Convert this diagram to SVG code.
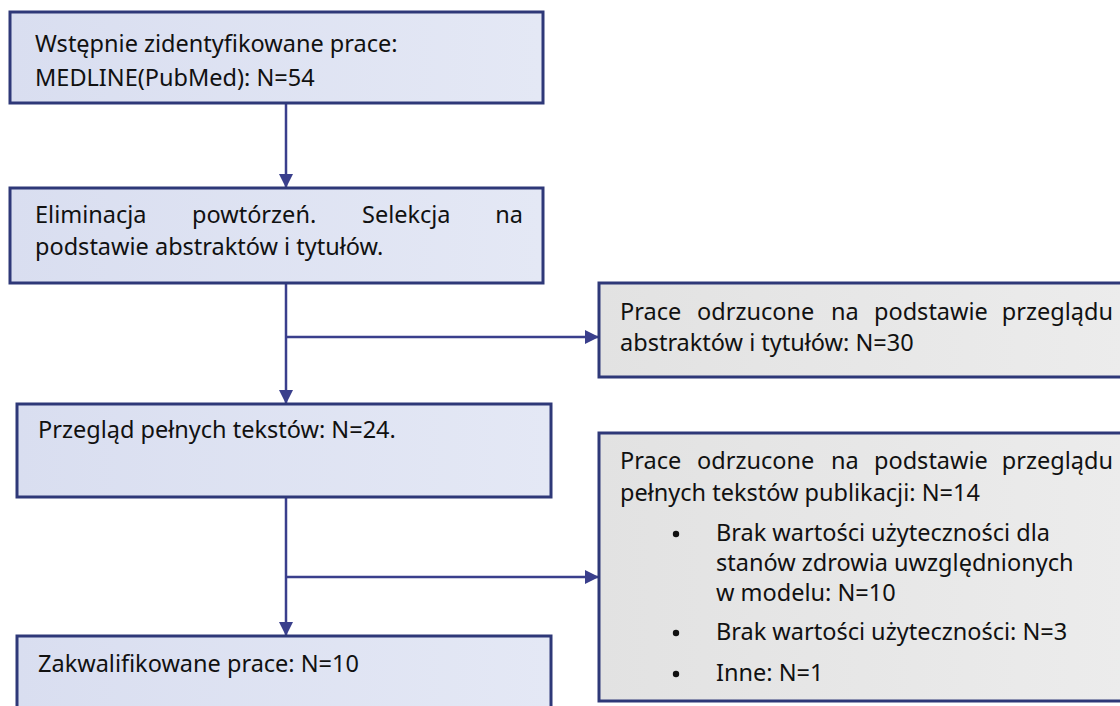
<svg xmlns="http://www.w3.org/2000/svg" width="1120" height="706" viewBox="0 0 1120 706">
<defs>
<linearGradient id="gb" x1="0" y1="0" x2="1" y2="0">
<stop offset="0" stop-color="#d9def0"/><stop offset="1" stop-color="#e4e8f5"/>
</linearGradient>
<linearGradient id="gg" x1="0" y1="0" x2="1" y2="0">
<stop offset="0" stop-color="#e2e2e2"/><stop offset="1" stop-color="#ececec"/>
</linearGradient>
<marker id="ah" viewBox="0 0 14 14" refX="13" refY="7" markerWidth="14" markerHeight="14" markerUnits="userSpaceOnUse" orient="auto">
<path d="M0,0 L14,7 L0,14 Z" fill="#3a3f8c"/>
</marker>
<style>
.bx{fill:url(#gb);stroke:#2e3878;stroke-width:3}
.gx{fill:url(#gg);stroke:#2e3878;stroke-width:3}
.t{font-family:"Noto Sans","DejaVu Sans",sans-serif;font-size:23.5px;fill:#111}
.e{text-anchor:end}
.c{fill:none;stroke:#3a3f8c;stroke-width:2.5}
</style>
</defs>
<rect width="1120" height="706" fill="#ffffff"/>
<g id="connectors">
<line class="c" x1="286" y1="103" x2="286" y2="187" marker-end="url(#ah)"/>
<line class="c" x1="286" y1="284" x2="286" y2="403" marker-end="url(#ah)"/>
<line class="c" x1="286" y1="337" x2="598" y2="337" marker-end="url(#ah)"/>
<line class="c" x1="286" y1="498" x2="286" y2="635" marker-end="url(#ah)"/>
<line class="c" x1="286" y1="577" x2="598" y2="577" marker-end="url(#ah)"/>
</g>
<g id="n1">
<rect class="bx" x="10" y="12" width="533" height="91"/>
<text class="t" x="35" y="52">Wstępnie zidentyfikowane prace:</text>
<text class="t" x="35" y="86">MEDLINE(PubMed): N=54</text>
</g>
<g id="n2">
<rect class="bx" x="10" y="188" width="533" height="95"/>
<text class="t" y="223"><tspan x="35">Eliminacja</tspan><tspan x="192">powtórzeń.</tspan><tspan x="362">Selekcja</tspan></text>
<text class="t e" x="523" y="223">na</text>
<text class="t" x="35" y="255">podstawie abstraktów i tytułów.</text>
</g>
<g id="n3">
<rect class="gx" x="599" y="283" width="526" height="94"/>
<text class="t" y="320"><tspan x="620">Prace</tspan><tspan x="697">odrzucone</tspan><tspan x="831">na</tspan><tspan x="874">podstawie</tspan></text>
<text class="t e" x="1113" y="320">przeglądu</text>
<text class="t" x="620" y="351">abstraktów i tytułów: N=30</text>
</g>
<g id="n4">
<rect class="bx" x="17" y="404" width="534" height="93"/>
<text class="t" x="38" y="438">Przegląd pełnych tekstów: N=24.</text>
</g>
<g id="n5">
<rect class="gx" x="599" y="433" width="526" height="268"/>
<text class="t" y="469"><tspan x="620">Prace</tspan><tspan x="697">odrzucone</tspan><tspan x="831">na</tspan><tspan x="874">podstawie</tspan></text>
<text class="t e" x="1113" y="469">przeglądu</text>
<text class="t" x="620" y="501">pełnych tekstów publikacji: N=14</text>
<circle cx="676" cy="534" r="3.2" fill="#111"/>
<text class="t" x="716" y="541">Brak wartości użyteczności dla</text>
<text class="t" x="716" y="571">stanów zdrowia uwzględnionych</text>
<text class="t" x="716" y="601">w modelu: N=10</text>
<circle cx="676" cy="633" r="3.2" fill="#111"/>
<text class="t" x="716" y="640">Brak wartości użyteczności: N=3</text>
<circle cx="676" cy="674" r="3.2" fill="#111"/>
<text class="t" x="716" y="681">Inne: N=1</text>
</g>
<g id="n6">
<rect class="bx" x="17" y="636" width="534" height="80"/>
<text class="t" x="38" y="672">Zakwalifikowane prace: N=10</text>
</g>
</svg>
